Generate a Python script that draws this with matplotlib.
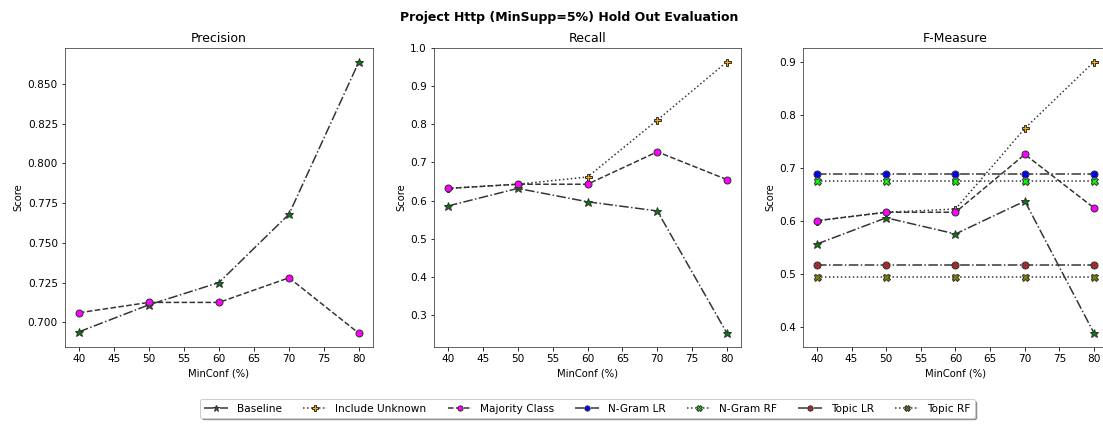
import matplotlib
matplotlib.use('Agg')
import matplotlib.pyplot as plt

# MinConf thresholds (%)
min_conf = [40, 50, 60, 70, 80]

# precision per model
prec_baseline = [0.694, 0.711, 0.725, 0.768, 0.864]
prec_majority = [0.706, 0.7125, 0.7125, 0.728, 0.693]

# recall per model
rec_baseline = [0.586, 0.632, 0.597, 0.573, 0.252]
rec_unknown = [0.632, 0.643, 0.662, 0.811, 0.964]
rec_majority = [0.632, 0.643, 0.643, 0.728, 0.655]

# f-measure per model
f_baseline = [0.556, 0.6055, 0.575, 0.637, 0.3875]
f_unknown = [0.600, 0.616, 0.622, 0.774, 0.900]
f_majority = [0.600, 0.616, 0.616, 0.725, 0.624]
f_ngram_lr = [0.688, 0.688, 0.688, 0.688, 0.688]
f_ngram_rf = [0.674, 0.674, 0.674, 0.674, 0.674]
f_topic_lr = [0.516, 0.516, 0.516, 0.516, 0.516]
f_topic_rf = [0.4935, 0.4935, 0.4935, 0.4935, 0.4935]

styles = {
    'Baseline': dict(marker='*', mfc='green', ls='-.', ms=9),
    'Include Unknown': dict(marker='P', mfc='orange', ls=':', ms=7),
    'Majority Class': dict(marker='o', mfc='magenta', ls='--', ms=7),
    'N-Gram LR': dict(marker='o', mfc='blue', ls='-.', ms=7),
    'N-Gram RF': dict(marker='X', mfc='lime', ls=':', ms=7),
    'Topic LR': dict(marker='o', mfc='brown', ls='-.', ms=7),
    'Topic RF': dict(marker='X', mfc='olive', ls=':', ms=7),
}

def draw(ax, name, y):
    s = styles[name]
    ax.plot(min_conf, y, color='0.2', lw=1.5, ls=s['ls'], marker=s['marker'],
            markersize=s['ms'], markerfacecolor=s['mfc'], markeredgecolor='0.2',
            label=name)

fig = plt.figure(figsize=(1103 / 72, 424 / 72), dpi=72)
W, H = 1103.0, 424.0
bottom = (H - 347) / H
height = (347 - 48) / H
ax1 = fig.add_axes([65 / W, bottom, 308 / W, height])
ax2 = fig.add_axes([434 / W, bottom, 307 / W, height])
ax3 = fig.add_axes([803 / W, bottom, 305 / W, height])

draw(ax1, 'Baseline', prec_baseline)
draw(ax1, 'Majority Class', prec_majority)

draw(ax2, 'Baseline', rec_baseline)
draw(ax2, 'Include Unknown', rec_unknown)
draw(ax2, 'Majority Class', rec_majority)

draw(ax3, 'Baseline', f_baseline)
draw(ax3, 'Include Unknown', f_unknown)
draw(ax3, 'Majority Class', f_majority)
draw(ax3, 'N-Gram LR', f_ngram_lr)
draw(ax3, 'N-Gram RF', f_ngram_rf)
draw(ax3, 'Topic LR', f_topic_lr)
draw(ax3, 'Topic RF', f_topic_rf)

for ax, title in zip([ax1, ax2, ax3], ['Precision', 'Recall', 'F-Measure']):
    ax.set_title(title, fontsize=12.5)
    ax.set_xlabel('MinConf (%)', fontsize=10)
    ax.set_ylabel('Score', fontsize=10)
    ax.set_xticks(range(40, 81, 5))
    ax.tick_params(labelsize=10.5)
    for sp in ax.spines.values():
        sp.set_color('0.25')

ax2.set_yticks([0.3, 0.4, 0.5, 0.6, 0.7, 0.8, 0.9, 1.0])

ax2.legend(*ax3.get_legend_handles_labels(), loc='upper center',
           bbox_to_anchor=(0.5, -0.175), ncol=7, shadow=True, fontsize=10.5,
           borderaxespad=0, markerscale=0.75, handlelength=2.3)

fig.suptitle('Project Http (MinSupp=5%) Hold Out Evaluation',
             fontweight='bold', fontsize=12.5, x=569 / W, y=0.975)

fig.savefig('out.png', dpi=72)
